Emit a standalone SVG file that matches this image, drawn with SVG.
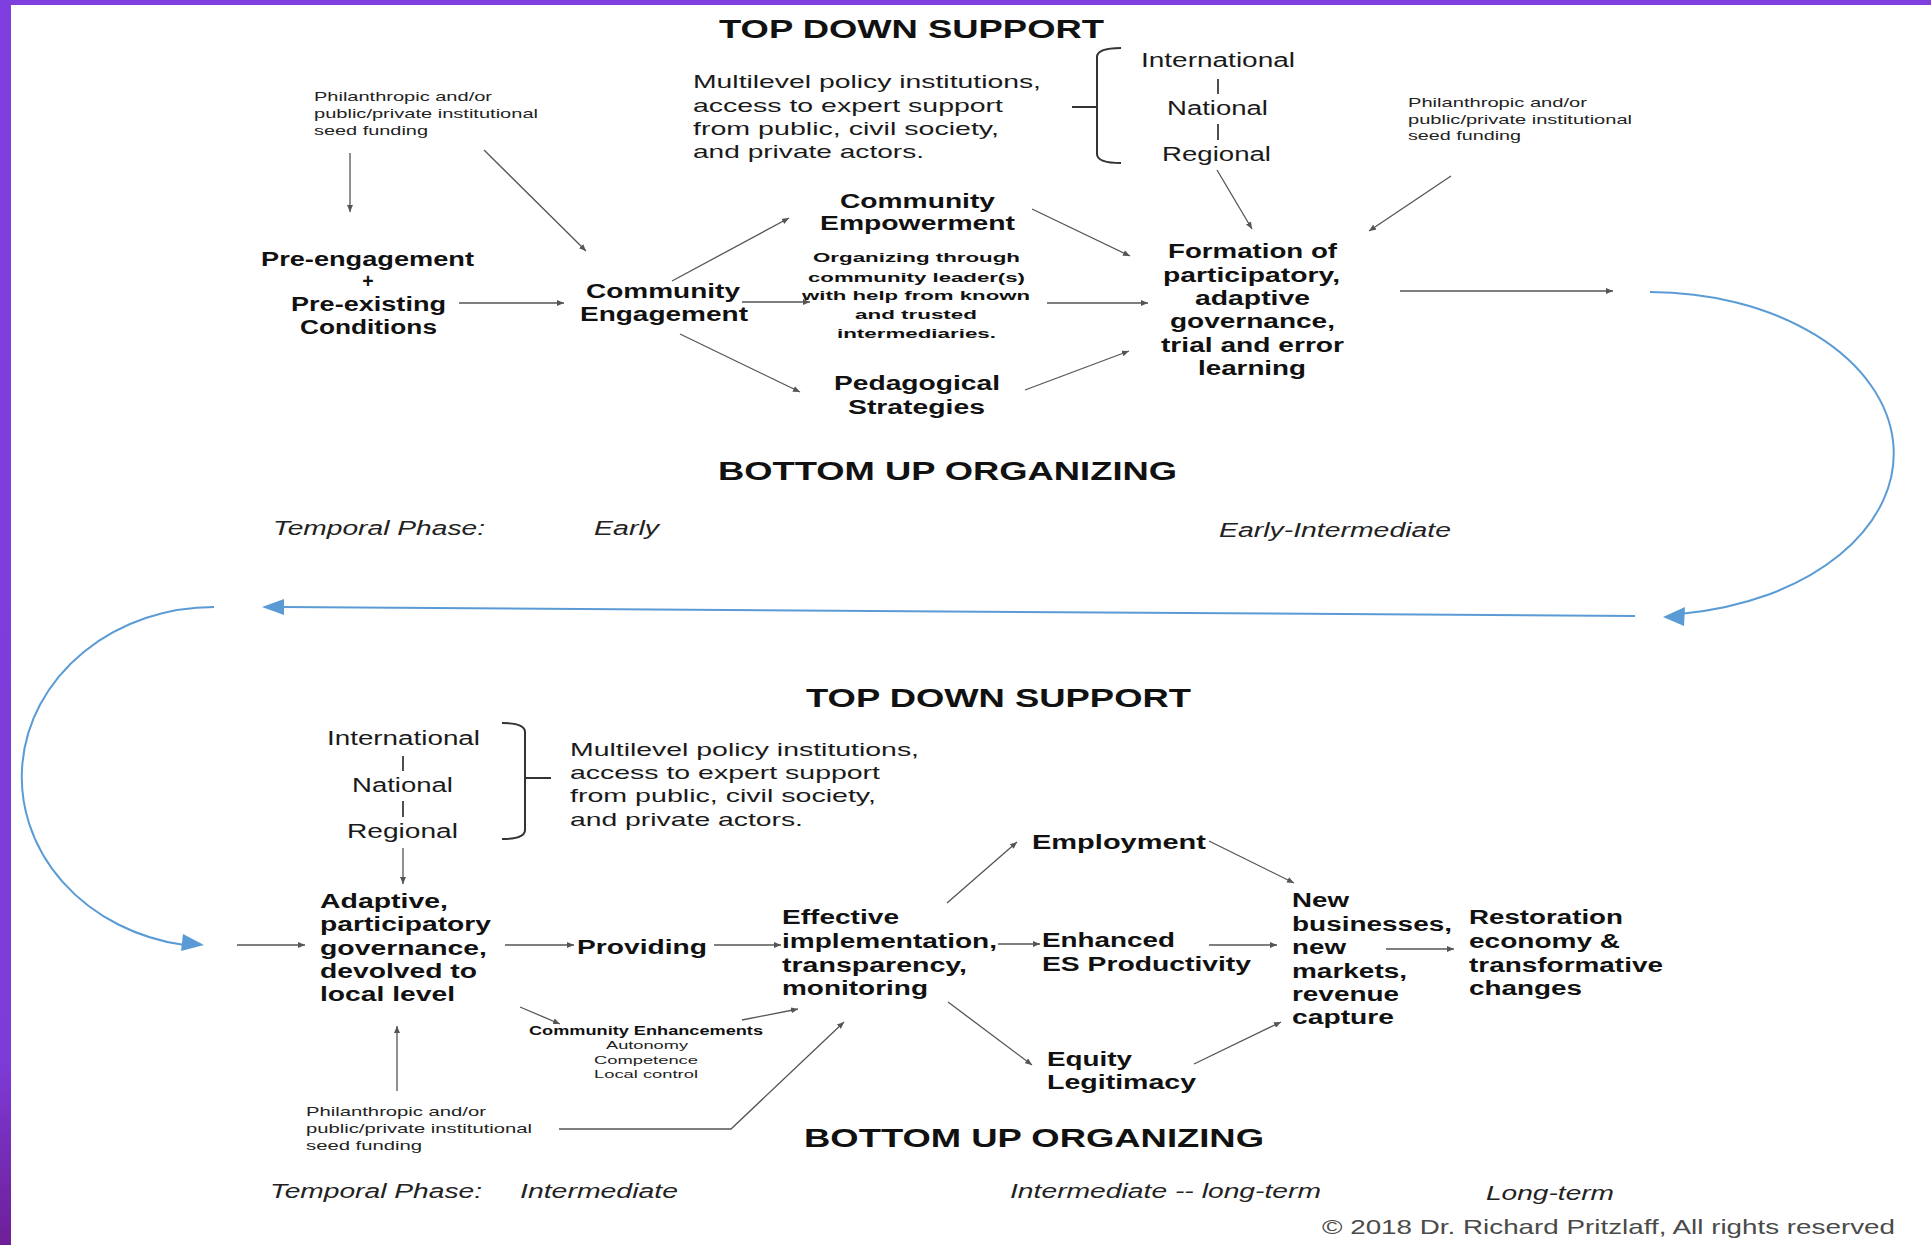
<svg xmlns="http://www.w3.org/2000/svg" width="1931" height="1245" viewBox="0 0 1931 1245">
<style>
text{font-family:"Liberation Sans",Arial,sans-serif;fill:#111}
.h{font-size:25px;font-weight:bold}
.n{font-size:19.5px;font-weight:bold}
.m{font-size:19px;fill:#1a1a1a}
.lv{font-size:20px;fill:#1a1a1a}
.bar{stroke:#222;stroke-width:1.6}
.o{font-size:13px;font-weight:bold}
.sf{font-size:13px;fill:#222}
.t{font-size:20px;font-style:italic;fill:#222}
.ce{font-size:12px;font-weight:bold}
.cs{font-size:11px;fill:#222}
.cp{font-size:21px;fill:#4a4a4a}
.c line,.c polyline{stroke:#555;stroke-width:1.3;fill:none;marker-end:url(#ah)}
.br{stroke:#333;stroke-width:2;fill:none}
.bl{stroke:#5b9bd5;stroke-width:2;fill:none}
.bh{fill:#5b9bd5}
</style>
<defs>
<marker id="ah" markerUnits="userSpaceOnUse" markerWidth="8" markerHeight="6" refX="7" refY="3" orient="auto">
<path d="M0,0 L7,3 L0,6 z" fill="#555"/>
</marker>
<linearGradient id="pg" x1="0" y1="0" x2="0" y2="1">
<stop offset="0" stop-color="#7f3fe0"/>
<stop offset="0.85" stop-color="#7d3bd8"/>
<stop offset="1" stop-color="#6e1f98"/>
</linearGradient>
</defs>
<rect x="0" y="0" width="1931" height="1245" fill="#fff"/>
<rect x="0" y="0" width="1931" height="5" fill="#7f3fe0"/>
<rect x="0" y="0" width="11" height="1245" fill="url(#pg)"/>

<!-- TOP SECTION -->
<g id="hdr-top-down-1"><text class="h" x="719" y="38" textLength="385" lengthAdjust="spacingAndGlyphs">TOP DOWN SUPPORT</text></g>
<g id="seed-top-left">
<text class="sf" x="314" y="101" textLength="178" lengthAdjust="spacingAndGlyphs">Philanthropic and/or</text>
<text class="sf" x="314" y="118" textLength="224" lengthAdjust="spacingAndGlyphs">public/private institutional</text>
<text class="sf" x="314" y="135" textLength="114" lengthAdjust="spacingAndGlyphs">seed funding</text>
</g>
<g id="pre-engagement">
<text class="n" x="261" y="266" textLength="213" lengthAdjust="spacingAndGlyphs">Pre-engagement</text>
<text class="n" x="368" y="288" text-anchor="middle">+</text>
<text class="n" x="291" y="311" textLength="155" lengthAdjust="spacingAndGlyphs">Pre-existing</text>
<text class="n" x="300" y="334" textLength="137" lengthAdjust="spacingAndGlyphs">Conditions</text>
</g>
<g id="community-engagement">
<text class="n" x="586" y="298" textLength="154" lengthAdjust="spacingAndGlyphs">Community</text>
<text class="n" x="580" y="321" textLength="168" lengthAdjust="spacingAndGlyphs">Engagement</text>
</g>
<g id="multilevel-top">
<text class="m" x="693" y="88" textLength="348" lengthAdjust="spacingAndGlyphs">Multilevel policy institutions,</text>
<text class="m" x="693" y="112" textLength="310" lengthAdjust="spacingAndGlyphs">access to expert support</text>
<text class="m" x="693" y="135" textLength="306" lengthAdjust="spacingAndGlyphs">from public, civil society,</text>
<text class="m" x="693" y="158" textLength="231" lengthAdjust="spacingAndGlyphs">and private actors.</text>
</g>
<g id="levels-top">
<path class="br" d="M1121,48 Q1097,48 1097,57 L1097,154 Q1097,163 1121,163 M1072,107 L1097,107"/>
<text class="lv" x="1141" y="67" textLength="154" lengthAdjust="spacingAndGlyphs">International</text>
<line class="bar" x1="1218" y1="79" x2="1218" y2="94"/>
<text class="lv" x="1167" y="115" textLength="101" lengthAdjust="spacingAndGlyphs">National</text>
<line class="bar" x1="1218" y1="124" x2="1218" y2="140"/>
<text class="lv" x="1162" y="161" textLength="109" lengthAdjust="spacingAndGlyphs">Regional</text>
</g>
<g id="community-empowerment">
<text class="n" x="840" y="208" textLength="155" lengthAdjust="spacingAndGlyphs">Community</text>
<text class="n" x="820" y="230" textLength="195" lengthAdjust="spacingAndGlyphs">Empowerment</text>
</g>
<g id="organizing">
<text class="o" x="813" y="262" textLength="207" lengthAdjust="spacingAndGlyphs">Organizing through</text>
<text class="o" x="808" y="282" textLength="217" lengthAdjust="spacingAndGlyphs">community leader(s)</text>
<text class="o" x="802" y="300" textLength="228" lengthAdjust="spacingAndGlyphs">with help from known</text>
<text class="o" x="855" y="319" textLength="122" lengthAdjust="spacingAndGlyphs">and trusted</text>
<text class="o" x="837" y="338" textLength="159" lengthAdjust="spacingAndGlyphs">intermediaries.</text>
</g>
<g id="pedagogical">
<text class="n" x="834" y="390" textLength="166" lengthAdjust="spacingAndGlyphs">Pedagogical</text>
<text class="n" x="848" y="414" textLength="137" lengthAdjust="spacingAndGlyphs">Strategies</text>
</g>
<g id="formation">
<text class="n" x="1168" y="258" textLength="169" lengthAdjust="spacingAndGlyphs">Formation of</text>
<text class="n" x="1163" y="282" textLength="177" lengthAdjust="spacingAndGlyphs">participatory,</text>
<text class="n" x="1195" y="305" textLength="115" lengthAdjust="spacingAndGlyphs">adaptive</text>
<text class="n" x="1170" y="328" textLength="165" lengthAdjust="spacingAndGlyphs">governance,</text>
<text class="n" x="1161" y="352" textLength="183" lengthAdjust="spacingAndGlyphs">trial and error</text>
<text class="n" x="1198" y="375" textLength="108" lengthAdjust="spacingAndGlyphs">learning</text>
</g>
<g id="seed-top-right">
<text class="sf" x="1408" y="107" textLength="179" lengthAdjust="spacingAndGlyphs">Philanthropic and/or</text>
<text class="sf" x="1408" y="124" textLength="224" lengthAdjust="spacingAndGlyphs">public/private institutional</text>
<text class="sf" x="1408" y="140" textLength="113" lengthAdjust="spacingAndGlyphs">seed funding</text>
</g>
<g id="hdr-bottom-up-1"><text class="h" x="718" y="480" textLength="459" lengthAdjust="spacingAndGlyphs">BOTTOM UP ORGANIZING</text></g>
<g id="temporal-1">
<text class="t" x="273" y="535" textLength="212" lengthAdjust="spacingAndGlyphs">Temporal Phase:</text>
<text class="t" x="594" y="535" textLength="65" lengthAdjust="spacingAndGlyphs">Early</text>
<text class="t" x="1219" y="537" textLength="232" lengthAdjust="spacingAndGlyphs">Early-Intermediate</text>
</g>

<!-- BOTTOM SECTION -->
<g id="hdr-top-down-2"><text class="h" x="806" y="707" textLength="385" lengthAdjust="spacingAndGlyphs">TOP DOWN SUPPORT</text></g>
<g id="levels-bottom">
<text class="lv" x="327" y="745" textLength="153" lengthAdjust="spacingAndGlyphs">International</text>
<line class="bar" x1="403" y1="756" x2="403" y2="771"/>
<text class="lv" x="352" y="792" textLength="101" lengthAdjust="spacingAndGlyphs">National</text>
<line class="bar" x1="403" y1="801" x2="403" y2="817"/>
<text class="lv" x="347" y="838" textLength="111" lengthAdjust="spacingAndGlyphs">Regional</text>
<path class="br" d="M502,723 Q525,723 525,732 L525,830 Q525,839 502,839 M525,778 L551,778"/>
</g>
<g id="multilevel-bottom">
<text class="m" x="570" y="756" textLength="349" lengthAdjust="spacingAndGlyphs">Multilevel policy institutions,</text>
<text class="m" x="570" y="779" textLength="310" lengthAdjust="spacingAndGlyphs">access to expert support</text>
<text class="m" x="570" y="802" textLength="306" lengthAdjust="spacingAndGlyphs">from public, civil society,</text>
<text class="m" x="570" y="826" textLength="233" lengthAdjust="spacingAndGlyphs">and private actors.</text>
</g>
<g id="adaptive">
<text class="n" x="320" y="908" textLength="128" lengthAdjust="spacingAndGlyphs">Adaptive,</text>
<text class="n" x="320" y="931" textLength="171" lengthAdjust="spacingAndGlyphs">participatory</text>
<text class="n" x="320" y="955" textLength="167" lengthAdjust="spacingAndGlyphs">governance,</text>
<text class="n" x="320" y="978" textLength="157" lengthAdjust="spacingAndGlyphs">devolved to</text>
<text class="n" x="320" y="1001" textLength="135" lengthAdjust="spacingAndGlyphs">local level</text>
</g>
<g id="providing"><text class="n" x="577" y="954" textLength="130" lengthAdjust="spacingAndGlyphs">Providing</text></g>
<g id="effective">
<text class="n" x="782" y="924" textLength="117" lengthAdjust="spacingAndGlyphs">Effective</text>
<text class="n" x="782" y="948" textLength="215" lengthAdjust="spacingAndGlyphs">implementation,</text>
<text class="n" x="782" y="972" textLength="185" lengthAdjust="spacingAndGlyphs">transparency,</text>
<text class="n" x="782" y="995" textLength="146" lengthAdjust="spacingAndGlyphs">monitoring</text>
</g>
<g id="enhanced">
<text class="n" x="1042" y="947" textLength="133" lengthAdjust="spacingAndGlyphs">Enhanced</text>
<text class="n" x="1042" y="971" textLength="209" lengthAdjust="spacingAndGlyphs">ES Productivity</text>
</g>
<g id="employment"><text class="n" x="1032" y="849" textLength="174" lengthAdjust="spacingAndGlyphs">Employment</text></g>
<g id="new-businesses">
<text class="n" x="1292" y="907" textLength="57" lengthAdjust="spacingAndGlyphs">New</text>
<text class="n" x="1292" y="931" textLength="160" lengthAdjust="spacingAndGlyphs">businesses,</text>
<text class="n" x="1292" y="954" textLength="54" lengthAdjust="spacingAndGlyphs">new</text>
<text class="n" x="1292" y="978" textLength="115" lengthAdjust="spacingAndGlyphs">markets,</text>
<text class="n" x="1292" y="1001" textLength="107" lengthAdjust="spacingAndGlyphs">revenue</text>
<text class="n" x="1292" y="1024" textLength="102" lengthAdjust="spacingAndGlyphs">capture</text>
</g>
<g id="restoration">
<text class="n" x="1469" y="924" textLength="154" lengthAdjust="spacingAndGlyphs">Restoration</text>
<text class="n" x="1469" y="948" textLength="151" lengthAdjust="spacingAndGlyphs">economy &amp;</text>
<text class="n" x="1469" y="972" textLength="194" lengthAdjust="spacingAndGlyphs">transformative</text>
<text class="n" x="1469" y="995" textLength="113" lengthAdjust="spacingAndGlyphs">changes</text>
</g>
<g id="equity">
<text class="n" x="1047" y="1066" textLength="85" lengthAdjust="spacingAndGlyphs">Equity</text>
<text class="n" x="1047" y="1089" textLength="149" lengthAdjust="spacingAndGlyphs">Legitimacy</text>
</g>
<g id="community-enhancements">
<text class="ce" x="529" y="1035" textLength="234" lengthAdjust="spacingAndGlyphs">Community Enhancements</text>
<text class="cs" x="606" y="1049" textLength="82" lengthAdjust="spacingAndGlyphs">Autonomy</text>
<text class="cs" x="594" y="1064" textLength="104" lengthAdjust="spacingAndGlyphs">Competence</text>
<text class="cs" x="594" y="1078" textLength="104" lengthAdjust="spacingAndGlyphs">Local control</text>
</g>
<g id="seed-bottom">
<text class="sf" x="306" y="1116" textLength="180" lengthAdjust="spacingAndGlyphs">Philanthropic and/or</text>
<text class="sf" x="306" y="1133" textLength="226" lengthAdjust="spacingAndGlyphs">public/private institutional</text>
<text class="sf" x="306" y="1150" textLength="116" lengthAdjust="spacingAndGlyphs">seed funding</text>
</g>
<g id="hdr-bottom-up-2"><text class="h" x="804" y="1147" textLength="460" lengthAdjust="spacingAndGlyphs">BOTTOM UP ORGANIZING</text></g>
<g id="temporal-2">
<text class="t" x="270" y="1198" textLength="212" lengthAdjust="spacingAndGlyphs">Temporal Phase:</text>
<text class="t" x="520" y="1198" textLength="158" lengthAdjust="spacingAndGlyphs">Intermediate</text>
<text class="t" x="1010" y="1198" textLength="311" lengthAdjust="spacingAndGlyphs">Intermediate -- long-term</text>
<text class="t" x="1486" y="1200" textLength="128" lengthAdjust="spacingAndGlyphs">Long-term</text>
</g>
<g id="copyright"><text class="cp" x="1322" y="1234" textLength="573" lengthAdjust="spacingAndGlyphs">© 2018 Dr. Richard Pritzlaff, All rights reserved</text></g>

<!-- CONNECTORS -->
<g id="connectors" class="c">
<line x1="350" y1="153" x2="350" y2="212"/>
<line x1="484" y1="150" x2="586" y2="251"/>
<line x1="459" y1="303" x2="564" y2="303"/>
<line x1="742" y1="302" x2="810" y2="302"/>
<line x1="672" y1="281" x2="789" y2="218"/>
<line x1="1032" y1="209" x2="1130" y2="256"/>
<line x1="680" y1="334" x2="800" y2="392"/>
<line x1="1025" y1="390" x2="1129" y2="351"/>
<line x1="1047" y1="303" x2="1148" y2="303"/>
<line x1="1217" y1="170" x2="1252" y2="229"/>
<line x1="1451" y1="176" x2="1369" y2="231"/>
<line x1="1400" y1="291" x2="1613" y2="291"/>
<line x1="403" y1="848" x2="403" y2="884"/>
<line x1="237" y1="945" x2="305" y2="945"/>
<line x1="505" y1="945" x2="574" y2="945"/>
<line x1="714" y1="945" x2="781" y2="945"/>
<line x1="998" y1="944" x2="1040" y2="944"/>
<line x1="1209" y1="945" x2="1277" y2="945"/>
<line x1="947" y1="903" x2="1017" y2="842"/>
<line x1="1209" y1="841" x2="1294" y2="883"/>
<line x1="1386" y1="949" x2="1454" y2="949"/>
<line x1="948" y1="1002" x2="1032" y2="1065"/>
<line x1="1194" y1="1064" x2="1281" y2="1022"/>
<line x1="520" y1="1007" x2="560" y2="1024"/>
<line x1="742" y1="1020" x2="798" y2="1009"/>
<line x1="397" y1="1091" x2="397" y2="1026"/>
<polyline points="559,1129 731,1129 844,1022"/>
</g>
<g id="phase-flow">
<path class="bl" d="M1650,292 A244,161.5 0 0 1 1684,613.4"/>
<polygon class="bh" points="1663,617 1685,607 1684,626"/>
<path class="bl" d="M1635,616 L282,607"/>
<polygon class="bh" points="262,607 284,599 284,615"/>
<path class="bl" d="M214,607 A192,170 0 0 0 183,944.8"/>
<polygon class="bh" points="204,945 183,934 181,951"/>
</g>
</svg>
